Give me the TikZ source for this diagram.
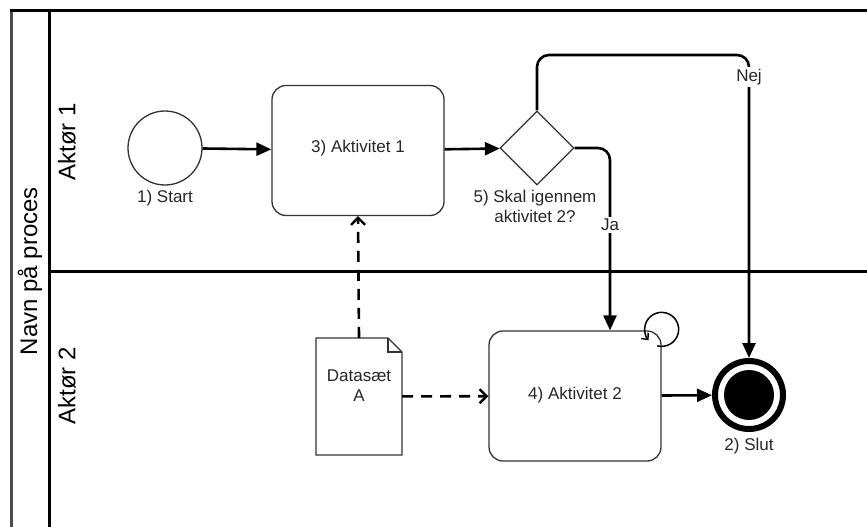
\documentclass[tikz,border=0pt]{standalone}
\usepackage{fontspec}
\setmainfont{Liberation Sans}
\usetikzlibrary{arrows.meta,shapes.geometric,calc}
\begin{document}
\begin{tikzpicture}[x=1pt,y=-1pt,
  lbl/.style={font=\fontsize{17}{20}\selectfont,text=black!85,align=center,inner sep=1pt},
  lanetitle/.style={font=\fontsize{24}{28}\selectfont,rotate=90,inner sep=0pt},
  taskbox/.style={draw=black!80,line width=1.3pt,rounded corners=14pt,minimum width=172pt,minimum height=130pt,inner sep=0pt},
  flow/.style={line width=2.6pt,-{Triangle[length=15pt,width=13pt]}},
  assoc/.style={line width=2.6pt,dash pattern=on 11pt off 8pt,-{Straight Barb[length=7pt,width=14pt,line width=2.4pt]}},
  ylabel/.style={lbl,fill=white,inner sep=2pt}]
\useasboundingbox (0,0) rectangle (867,527);
% pool and lanes
\draw[line width=3pt,black!70] (11,540) -- (11,11);
\draw[line width=3pt] (10,11) -- (880,11);
\draw[line width=3pt] (49,11) -- (49,540);
\draw[line width=3pt] (49,271) -- (880,271);
\node[lanetitle] (pool) at (30,271) {Navn på proces};
\node[lanetitle] (lane1) at (67,142) {Aktør 1};
\node[lanetitle] (lane2) at (67,386) {Aktør 2};
% nodes
\node[circle,draw=black!80,line width=1.3pt,minimum size=74pt,inner sep=0pt] (start) at (165,148) {};
\node[lbl] (startl) at (165,198) {1) Start};
\node[taskbox] (act1) at (358,150.5) {};
\node[lbl] (act1l) at (358,148) {3) Aktivitet 1};
\node[diamond,draw=black!80,line width=1.3pt,minimum width=74pt,minimum height=74pt,aspect=1,inner sep=0pt] (gw) at (537,148) {};
\node[lbl] (gwl) at (535,206) {5) Skal igennem\\aktivitet 2?};
\node[taskbox] (act2) at (575,396) {};
\node[lbl] (act2l) at (575,395) {4) Aktivitet 2};
\node[circle,draw=black,line width=6pt,minimum size=68pt,inner sep=0pt] (endev) at (749,395) {};
\node[circle,fill=black,minimum size=50pt,inner sep=0pt] (endin) at (749,395) {};
\node[lbl] (endl) at (749,446) {2) Slut};
% data object
\draw[black!80,line width=1.3pt] (316,338) -- (388,338) -- (402,352) -- (402,455) -- (316,455) -- cycle;
\draw[black!80,line width=1.3pt] (388,338) -- (388,352) -- (402,352);
\node[inner sep=0pt,minimum width=86pt,minimum height=117pt] (data) at (359,396.5) {};
\node[lbl] (datal) at (359,386) {Datasæt\\A};
% loop marker
\draw[line width=1.5pt,-{Straight Barb[length=5pt,width=9pt,line width=1.4pt]}] (act2.north east) ++(0,-1) ++(465:17) arc[start angle=465,end angle=140,radius=17];
% connectors
\draw[flow] (start) -- (act1);
\draw[flow] (act1) -- (gw);
\coordinate (nejtop) at (749,55);
\draw[flow,rounded corners=12pt] (gw.north) |- (nejtop) -- (endev.north);
\node[ylabel] (nejl) at (749,77) {Nej};
\draw[flow,rounded corners=12pt] (gw.east) -| ([xshift=35pt]act2.north);
\node[ylabel] (jal) at (610,225) {Ja};
\draw[flow] (act2) -- (endev);
\draw[assoc] (data) -- (act2);
\draw[assoc] (data.north) -- (act1.south);
\end{tikzpicture}
\end{document}
